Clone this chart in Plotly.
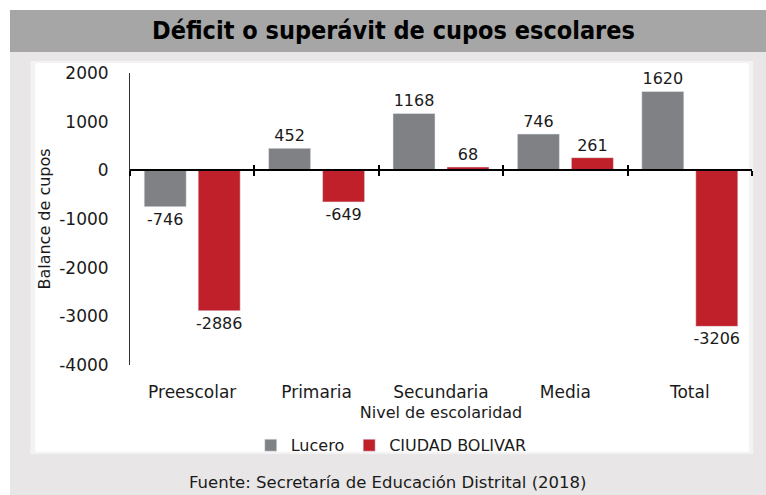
import plotly.graph_objects as go

categories = ["Preescolar", "Primaria", "Secundaria", "Media", "Total"]
lucero = [-746, 452, 1168, 746, 1620]
ciudad_bolivar = [-2886, -649, 68, 261, -3206]
series_names = ["Lucero", "CIUDAD BOLIVAR"]
y_ticks = [2000, 1000, 0, -1000, -2000, -3000, -4000]

title_text = "Déficit o superávit de cupos escolares"
source_text = "Fuente: Secretaría de Educación Distrital (2018)"

FONT = "DejaVu Sans"
GRAY = "#808184"
RED = "#c0202a"
TXT = "#1a1a1a"

fig = go.Figure()
fig.add_trace(go.Bar(
    x=categories, y=lucero, name=series_names[0], marker_color=GRAY,
    text=[str(v) for v in lucero], textposition="outside", constraintext="none",
    textfont=dict(family=FONT, size=16, color=TXT), cliponaxis=False,
))
fig.add_trace(go.Bar(
    x=categories, y=ciudad_bolivar, name=series_names[1], marker_color=RED,
    text=[str(v) for v in ciudad_bolivar], textposition="outside", constraintext="none",
    textfont=dict(family=FONT, size=16, color=TXT), cliponaxis=False,
))
# helper invisible traces to carry the label axis and the upward tick axis
for ax in ["x2", "x3"]:
    fig.add_trace(go.Scatter(
        x=categories, y=[0] * len(categories), xaxis=ax, mode="markers",
        marker=dict(opacity=0), showlegend=False, hoverinfo="skip",
    ))

ymin, ymax = -4000, 2000
zero_pos = (0 - ymin) / (ymax - ymin)

common_x = dict(type="category", range=[-0.5, len(categories) - 0.5], fixedrange=True)

fig.update_layout(
    width=766, height=495,
    margin=dict(l=130, r=14, t=73, b=130),
    paper_bgcolor="white",
    plot_bgcolor="rgba(0,0,0,0)",
    barmode="group", bargap=0.132, bargroupgap=0.222,
    font=dict(family=FONT, size=16, color=TXT),
    xaxis=dict(
        **common_x, anchor="free", position=zero_pos,
        showline=True, linecolor="black", linewidth=2,
        ticks="outside", tickson="boundaries", ticklen=5, tickwidth=2, tickcolor="black",
        showticklabels=False, showgrid=False, zeroline=False,
    ),
    xaxis2=dict(
        **common_x, overlaying="x", anchor="y", side="bottom",
        showline=False, showgrid=False, zeroline=False,
        ticks="outside", ticklen=12, tickcolor="rgba(0,0,0,0)",
        tickfont=dict(family=FONT, size=17, color=TXT),
        title=dict(text="Nivel de escolaridad", standoff=5,
                   font=dict(family=FONT, size=16, color=TXT)),
    ),
    xaxis3=dict(
        **common_x, overlaying="x", anchor="free", position=zero_pos,
        showline=False, showgrid=False, zeroline=False,
        ticks="inside", tickson="boundaries", ticklen=5, tickwidth=2, tickcolor="black",
        showticklabels=False,
    ),
    yaxis=dict(
        range=[ymin, ymax], tickvals=y_ticks, ticktext=[str(v) for v in y_ticks],
        showline=True, linecolor="#333333", linewidth=1,
        ticks="outside", ticklen=17, tickcolor="rgba(0,0,0,0)",
        showgrid=False, zeroline=False, fixedrange=True,
        tickfont=dict(family=FONT, size=17, color=TXT),
        title=dict(text="Balance de cupos", standoff=4,
                   font=dict(family=FONT, size=16, color=TXT)),
    ),
    legend=dict(
        orientation="h", x=0.42, xanchor="center", y=-0.275, yanchor="middle",
        xref="paper", yref="paper",
        font=dict(family=FONT, size=16, color=TXT),
        bgcolor="rgba(0,0,0,0)", itemwidth=30, traceorder="normal",
    ),
    shapes=[
        # light gray frame
        dict(type="rect", xref="paper", yref="paper", x0=-0.193, x1=1.03, y0=-0.46, y1=1.0719,
             fillcolor="#e8e6e7", line=dict(width=0), layer="below"),
        # title band
        dict(type="rect", xref="paper", yref="paper", x0=-0.193, x1=1.03, y0=1.0719, y1=1.2158,
             fillcolor="#a6a6a6", line=dict(width=0), layer="below"),
        # white inner panel (soft edge)
        dict(type="rect", xref="paper", yref="paper", x0=-0.160, x1=1.002, y0=-0.305, y1=1.041,
             fillcolor="#f4f3f3", line=dict(width=0), layer="below"),
        dict(type="rect", xref="paper", yref="paper", x0=-0.152, x1=0.995, y0=-0.297, y1=1.034,
             fillcolor="white", line=dict(width=0), layer="below"),
    ],
    annotations=[
        dict(text="<b>" + title_text + "</b>", xref="paper", yref="paper",
             x=0.424, y=1.144, xanchor="center", yanchor="middle", showarrow=False,
             font=dict(family="DejaVu Sans Condensed", size=25, color="black")),
        dict(text=source_text, xref="paper", yref="paper",
             x=0.415, y=-0.404, xanchor="center", yanchor="middle", showarrow=False,
             font=dict(family=FONT, size=16.5, color=TXT)),
    ],
)

fig.write_html(
    "out.html",
    config={"displayModeBar": False},
    post_script="document.body.style.margin='0';document.body.style.overflow='hidden';",
)
